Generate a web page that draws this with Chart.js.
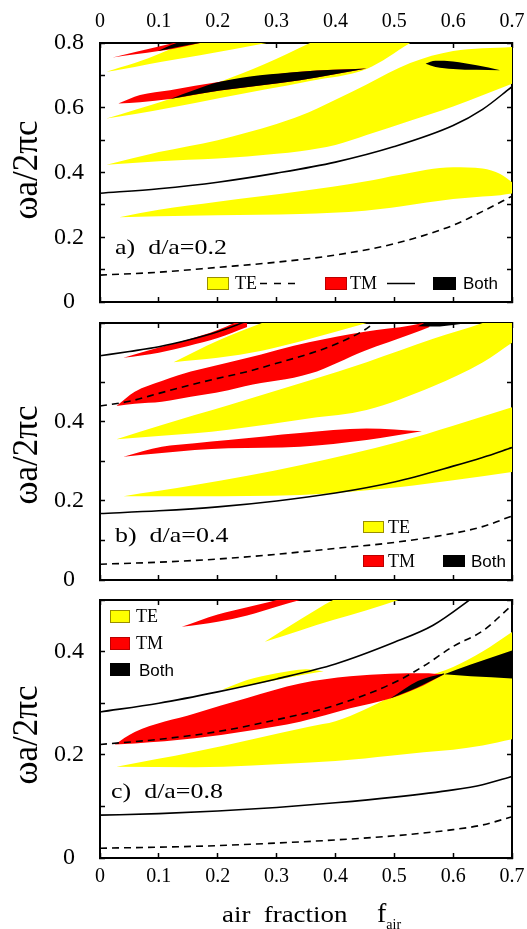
<!DOCTYPE html>
<html>
<head>
<meta charset="utf-8">
<script src="https://cdn.jsdelivr.net/npm/chart.js@4.4.1/dist/chart.umd.min.js"></script>
<style>
  body { margin: 0; background: #fff; }
  #fig { position: relative; width: 527px; height: 929px; overflow: hidden; }
  canvas { position: absolute; left: 0; }
  .t { position: absolute; font-family: 'Liberation Serif', 'Times New Roman', serif; color: #000;
       white-space: pre; line-height: 1; transform-origin: 0 50%; transform: translateY(-50%); }
  .s { font-family: 'Liberation Sans', Arial, sans-serif; }
  .sw { position: absolute; box-sizing: border-box; }
  .yt { position: absolute; font-family: 'Liberation Serif', serif; font-size: 35px; line-height: 1;
        white-space: nowrap; transform: translate(-50%, -50%) rotate(-90deg); }
  svg { position: absolute; }
</style>
</head>
<body>
<div id="fig">
  <canvas id="pa" width="527" height="312" style="top:0"></canvas>
  <canvas id="pb" width="527" height="278" style="top:312px"></canvas>
  <canvas id="pc" width="527" height="339" style="top:590px"></canvas>

  <div class="yt" style="left:25px;top:170px">ωa/2πc</div>
  <div class="yt" style="left:25px;top:455px">ωa/2πc</div>
  <div class="yt" style="left:25px;top:735px">ωa/2πc</div>

  <div class="t" style="left:115px;top:247px;font-size:22px;transform:translateY(-50%) scaleX(1.18)">a)  d/a=0.2</div>
  <div class="t" style="left:115px;top:535px;font-size:22px;transform:translateY(-50%) scaleX(1.18)">b)  d/a=0.4</div>
  <div class="t" style="left:111px;top:791px;font-size:22px;transform:translateY(-50%) scaleX(1.18)">c)  d/a=0.8</div>

  <!-- legend a -->
  <div class="sw" style="left:207px;top:277px;width:22px;height:13px;background:#ff0;border:1px solid #9a8f00"></div>
  <div class="t" style="left:235px;top:283px;font-size:18px">TE</div>
  <svg style="left:260px;top:282px" width="35" height="3"><line x1="0" y1="1.5" x2="35" y2="1.5" stroke="#000" stroke-width="1.5" stroke-dasharray="7 7"/></svg>
  <div class="sw" style="left:325px;top:277px;width:22px;height:13px;background:#f00;border:1px solid #b00"></div>
  <div class="t" style="left:350px;top:283px;font-size:18px">TM</div>
  <svg style="left:387px;top:282px" width="28" height="3"><line x1="0" y1="1.5" x2="28" y2="1.5" stroke="#000" stroke-width="1.5"/></svg>
  <div class="sw" style="left:433px;top:277px;width:23px;height:13px;background:#000"></div>
  <div class="t s" style="left:463px;top:283px;font-size:17px">Both</div>

  <!-- legend b -->
  <div class="sw" style="left:363px;top:521px;width:21px;height:12px;background:#ff0;border:1px solid #9a8f00"></div>
  <div class="t" style="left:388px;top:527px;font-size:18px">TE</div>
  <div class="sw" style="left:363px;top:555px;width:21px;height:12px;background:#f00;border:1px solid #b00"></div>
  <div class="t" style="left:388px;top:561px;font-size:18px">TM</div>
  <div class="sw" style="left:443px;top:555px;width:22px;height:12px;background:#000"></div>
  <div class="t s" style="left:471px;top:561px;font-size:17px">Both</div>

  <!-- legend c -->
  <div class="sw" style="left:110px;top:610px;width:20px;height:13px;background:#ff0;border:1px solid #9a8f00"></div>
  <div class="t" style="left:136px;top:616px;font-size:18px">TE</div>
  <div class="sw" style="left:110px;top:637px;width:20px;height:13px;background:#f00;border:1px solid #b00"></div>
  <div class="t" style="left:136px;top:643px;font-size:18px">TM</div>
  <div class="sw" style="left:110px;top:663px;width:20px;height:13px;background:#000"></div>
  <div class="t s" style="left:139px;top:670px;font-size:17px">Both</div>

  <div class="t" style="left:222px;top:914px;font-size:24px;transform:translateY(-50%) scaleX(1.12)">air  fraction</div>
  <div class="t" style="left:377px;top:913px;font-size:28px">f<span style="font-size:14px;position:relative;top:7px">air</span></div>
</div>

<script>
// air fraction axis ticks
const fTicks = [0, 0.1, 0.2, 0.3, 0.4, 0.5, 0.6, 0.7];

// ---- panel a) d/a=0.2 ----  band rows: [f, lower, upper]
const aTE1 = [[0.011, 0.711, 0.711], [0.035, 0.718, 0.725], [0.059, 0.726, 0.738], [0.105, 0.742, 0.77], [0.17, 0.762, 0.82], [0.283, 0.80, 0.88]];
const aTE2 = [[0.011, 0.567, 0.567], [0.06, 0.581, 0.594], [0.119, 0.60, 0.627], [0.204, 0.63, 0.68], [0.28, 0.656, 0.735], [0.357, 0.683, 0.80], [0.453, 0.72, 0.88], [0.527, 0.80, 0.95]];
const aTE3 = [[0.011, 0.424, 0.424], [0.1, 0.435, 0.463], [0.2, 0.443, 0.50], [0.3, 0.458, 0.55], [0.34, 0.466, 0.575], [0.4, 0.485, 0.625], [0.453, 0.516, 0.672], [0.527, 0.56, 0.738], [0.6, 0.604, 0.775], [0.7, 0.674, 0.788]];
const aTE4 = [[0.033, 0.262, 0.262], [0.1, 0.265, 0.285], [0.2, 0.268, 0.31], [0.34, 0.272, 0.342], [0.45, 0.282, 0.372], [0.51, 0.295, 0.393], [0.6, 0.318, 0.416], [0.65, 0.326, 0.412], [0.68, 0.33, 0.395], [0.7, 0.335, 0.37]];
const aTM1 = [[0.0215, 0.755, 0.755], [0.06, 0.765, 0.772], [0.1, 0.775, 0.789], [0.125, 0.782, 0.80], [0.17, 0.80, 0.82]];
const aTM2 = [[0.031, 0.613, 0.613], [0.068, 0.617, 0.639], [0.119, 0.627, 0.654], [0.204, 0.653, 0.68], [0.34, 0.685, 0.711], [0.453, 0.721, 0.721]];
const aBoth1 = [[0.098, 0.775, 0.775], [0.13, 0.787, 0.80], [0.17, 0.80, 0.82]];
const aBoth2 = [[0.119, 0.627, 0.627], [0.204, 0.653, 0.68], [0.34, 0.685, 0.711], [0.453, 0.721, 0.721]];
const aBoth3 = [[0.553, 0.736, 0.736], [0.57, 0.726, 0.745], [0.6, 0.72, 0.743], [0.64, 0.717, 0.731], [0.68, 0.716, 0.716]];
const aTMline = [[0, 0.336], [0.1, 0.35], [0.2, 0.37], [0.3, 0.398], [0.4, 0.432], [0.5, 0.48], [0.6, 0.545], [0.65, 0.595], [0.7, 0.665]];
const aTEline = [[0, 0.083], [0.1, 0.092], [0.2, 0.107], [0.3, 0.123], [0.4, 0.145], [0.5, 0.18], [0.6, 0.237], [0.65, 0.28], [0.7, 0.327]];

// ---- panel b) d/a=0.4 ----
const bTE1 = [[0.125, 0.551, 0.551], [0.2, 0.562, 0.605], [0.275, 0.58, 0.65], [0.357, 0.61, 0.69], [0.453, 0.65, 0.72]];
const bTE2 = [[0.028, 0.356, 0.356], [0.105, 0.365, 0.392], [0.161, 0.371, 0.417], [0.218, 0.38, 0.442], [0.357, 0.409, 0.505], [0.453, 0.43, 0.551], [0.566, 0.49, 0.61], [0.65, 0.55, 0.65], [0.7, 0.6, 0.68]];
const bTE3 = [[0.04, 0.212, 0.212], [0.161, 0.212, 0.24], [0.34, 0.215, 0.29], [0.51, 0.235, 0.35], [0.6, 0.252, 0.39], [0.7, 0.273, 0.437]];
const bTM1 = [[0.04, 0.562, 0.562], [0.1, 0.575, 0.588], [0.15, 0.592, 0.608], [0.2, 0.612, 0.632], [0.25, 0.64, 0.665]];
const bTM2 = [[0.028, 0.44, 0.44], [0.059, 0.446, 0.476], [0.105, 0.451, 0.503], [0.133, 0.458, 0.518], [0.218, 0.48, 0.55], [0.246, 0.49, 0.56], [0.357, 0.522, 0.602], [0.45, 0.58, 0.628], [0.53, 0.623, 0.644], [0.56, 0.64, 0.655]];
const bTM3 = [[0.04, 0.312, 0.312], [0.105, 0.321, 0.337], [0.161, 0.329, 0.346], [0.218, 0.333, 0.354], [0.34, 0.337, 0.372], [0.453, 0.354, 0.383], [0.547, 0.376, 0.376]];
const bBoth1 = [[0.54, 0.642, 0.642], [0.57, 0.641, 0.66], [0.6, 0.645, 0.66], [0.625, 0.65, 0.66]];
const bTMline1 = [[0, 0.567], [0.05, 0.578], [0.1, 0.59], [0.15, 0.607], [0.2, 0.628], [0.25, 0.655]];
const bTMline2 = [[0, 0.168], [0.1, 0.175], [0.2, 0.185], [0.3, 0.2], [0.4, 0.22], [0.5, 0.248], [0.6, 0.288], [0.65, 0.31], [0.7, 0.335]];
const bTEline1 = [[0, 0.44], [0.05, 0.452], [0.1, 0.472], [0.15, 0.492], [0.2, 0.51], [0.25, 0.527], [0.3, 0.548], [0.357, 0.573], [0.4, 0.596], [0.45, 0.633], [0.47, 0.655]];
const bTEline2 = [[0, 0.04], [0.1, 0.045], [0.2, 0.053], [0.3, 0.065], [0.4, 0.08], [0.5, 0.095], [0.6, 0.118], [0.65, 0.135], [0.7, 0.162]];

// ---- panel c) d/a=0.8 ----
const cTE1 = [[0.28, 0.419, 0.419], [0.34, 0.441, 0.462], [0.396, 0.461, 0.5], [0.453, 0.48, 0.53], [0.515, 0.503, 0.56]];
const cTE2 = [[0.028, 0.177, 0.177], [0.161, 0.176, 0.206], [0.357, 0.185, 0.255], [0.4, 0.188, 0.265], [0.45, 0.193, 0.288], [0.493, 0.198, 0.312], [0.55, 0.205, 0.348], [0.6, 0.21, 0.37], [0.65, 0.218, 0.40], [0.7, 0.23, 0.438]];
const cTE3 = [[0.207, 0.326, 0.326], [0.25, 0.334, 0.345], [0.3, 0.345, 0.358], [0.35, 0.356, 0.366], [0.38, 0.362, 0.362]];
const cTM1 = [[0.139, 0.448, 0.448], [0.2, 0.458, 0.472], [0.25, 0.47, 0.486], [0.3, 0.487, 0.5], [0.34, 0.5, 0.515]];
const cTM2 = [[0.025, 0.22, 0.22], [0.059, 0.222, 0.244], [0.161, 0.232, 0.28], [0.25, 0.246, 0.31], [0.34, 0.264, 0.338], [0.425, 0.29, 0.352], [0.493, 0.309, 0.357], [0.55, 0.335, 0.358], [0.585, 0.356, 0.356]];
const cBoth1 = [[0.493, 0.309, 0.309], [0.54, 0.331, 0.343], [0.585, 0.356, 0.358]];
const cBoth2 = [[0.585, 0.356, 0.356], [0.63, 0.352, 0.375], [0.7, 0.348, 0.402]];
const cTMline1 = [[0, 0.283], [0.1, 0.3], [0.2, 0.322], [0.3, 0.347], [0.4, 0.376], [0.5, 0.418], [0.566, 0.451], [0.64, 0.51]];
const cTMline2 = [[0, 0.083], [0.1, 0.086], [0.2, 0.091], [0.3, 0.098], [0.4, 0.107], [0.5, 0.118], [0.6, 0.132], [0.65, 0.142], [0.7, 0.158]];
const cTEline1 = [[0, 0.22], [0.1, 0.23], [0.2, 0.245], [0.3, 0.268], [0.4, 0.296], [0.5, 0.34], [0.55, 0.372], [0.6, 0.41], [0.65, 0.44], [0.7, 0.49]];
const cTEline2 = [[0, 0.019], [0.1, 0.021], [0.2, 0.024], [0.3, 0.029], [0.4, 0.035], [0.5, 0.043], [0.6, 0.055], [0.65, 0.064], [0.7, 0.08]];

const YELLOW = '#ffff00', RED = '#ff0000', BLACK = '#000000';

// a gap is filled between the upper edge and the lower edge dataset right after it
function band(rows, color, order) {
  const common = { pointRadius: 0, borderWidth: 0, cubicInterpolationMode: 'monotone', order };
  return [
    { ...common, data: rows.map(r => ({ x: r[0], y: r[2] })), fill: '+1', backgroundColor: color },
    { ...common, data: rows.map(r => ({ x: r[0], y: r[1] })), fill: false },
  ];
}

function curve(pts, dashed) {
  return {
    data: pts.map(p => ({ x: p[0], y: p[1] })),
    borderColor: '#000', borderWidth: 1.6, borderDash: dashed ? [7, 5] : [],
    pointRadius: 0, fill: false, cubicInterpolationMode: 'monotone', order: 0,
  };
}

const fmtX = v => {
  const k = Math.round(v * 10);
  return k === 0 ? '0' : (k / 10).toFixed(1);
};
const fmtY = v => {
  const k = Math.round(v * 10);
  if (Math.abs(v * 10 - k) > 1e-6 || k % 2) return '';
  return k === 0 ? '0' : (k / 10).toFixed(1);
};

// fixed box size; label overhang must not push the plot area in
function fixSize(dim, size) {
  return s => {
    s[dim] = size;
    s.paddingTop = s.paddingBottom = s.paddingLeft = s.paddingRight = 0;
  };
}

function axis(extra) {
  return {
    type: 'linear', z: 1,
    border: { display: true, color: '#000', width: 2 },
    grid: { drawOnChartArea: false, tickLength: -5, tickWidth: 1.5, tickColor: '#000' },
    ...extra,
  };
}

function panel(id, ymax, datasets, o) {
  const xTickFont = { family: 'Liberation Serif', size: 20 };
  new Chart(document.getElementById(id), {
    type: 'line',
    data: { datasets },
    options: {
      responsive: false,
      animation: false,
      events: [],
      layout: { padding: 0, autoPadding: false },
      plugins: { legend: { display: false }, tooltip: { enabled: false } },
      scales: {
        x: axis({
          position: 'bottom', min: 0, max: 0.7,
          ticks: { stepSize: 0.1, autoSkip: false, maxRotation: 0, padding: 12, color: '#000', font: xTickFont,
                   callback: o.bottomLabels ? fmtX : () => '' },
          afterFit: fixSize('height', o.bottom),
        }),
        x2: axis({
          position: 'top', min: 0, max: 0.7,
          ticks: { stepSize: 0.1, autoSkip: false, maxRotation: 0, padding: 14, color: '#000', font: xTickFont,
                   callback: o.topLabels ? fmtX : () => '' },
          afterFit: fixSize('height', o.top),
        }),
        y: axis({
          position: 'left', min: 0, max: ymax,
          ticks: { stepSize: 0.1, autoSkip: false, crossAlign: 'center', padding: 21, color: '#000',
                   font: { family: 'Liberation Serif', size: 24 }, callback: fmtY },
          afterFit: fixSize('width', 100),
        }),
        y2: axis({
          position: 'right', min: 0, max: ymax,
          ticks: { stepSize: 0.1, autoSkip: false, callback: () => '' },
          afterFit: fixSize('width', 15),
        }),
      },
    },
  });
}

panel('pa', 0.8, [
  ...band(aTE1, YELLOW, 3), ...band(aTE2, YELLOW, 3), ...band(aTE3, YELLOW, 3), ...band(aTE4, YELLOW, 3),
  ...band(aTM1, RED, 2), ...band(aTM2, RED, 2),
  ...band(aBoth1, BLACK, 1), ...band(aBoth2, BLACK, 1), ...band(aBoth3, BLACK, 1),
  curve(aTMline, false), curve(aTEline, true),
], { top: 43, bottom: 10, topLabels: true, bottomLabels: false });

panel('pb', 0.65, [
  ...band(bTE1, YELLOW, 3), ...band(bTE2, YELLOW, 3), ...band(bTE3, YELLOW, 3),
  ...band(bTM1, RED, 2), ...band(bTM2, RED, 2), ...band(bTM3, RED, 2),
  ...band(bBoth1, BLACK, 1),
  curve(bTMline1, false), curve(bTMline2, false), curve(bTEline1, true), curve(bTEline2, true),
], { top: 11, bottom: 10, topLabels: false, bottomLabels: false });

panel('pc', 0.5, [
  ...band(cTE1, YELLOW, 3), ...band(cTE2, YELLOW, 3), ...band(cTE3, YELLOW, 3),
  ...band(cTM1, RED, 2), ...band(cTM2, RED, 2),
  ...band(cBoth1, BLACK, 1), ...band(cBoth2, BLACK, 1),
  curve(cTMline1, false), curve(cTMline2, false), curve(cTEline1, true), curve(cTEline2, true),
], { top: 10, bottom: 71, topLabels: false, bottomLabels: true });
</script>
</body>
</html>
